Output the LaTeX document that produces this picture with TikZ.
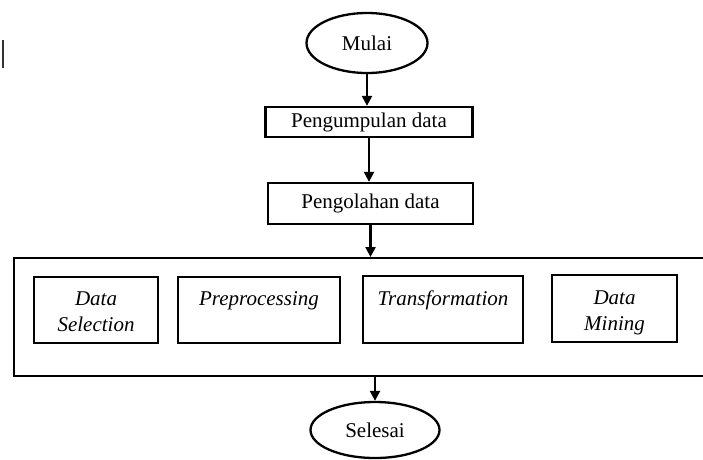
\documentclass[tikz,border=0pt]{standalone}
\usepackage{fontspec}
\setmainfont{Liberation Serif}
\usetikzlibrary{arrows.meta,shapes.geometric}
\tikzset{
  every node/.style={font=\fontsize{21}{26}\selectfont},
  term/.style={draw, ellipse, line width=2.3pt, inner sep=0pt},
  procbox/.style={draw, rectangle, line width=2.3pt, inner sep=0pt},
  flow/.style={line width=2.3pt, -{Triangle[width=10pt,length=10pt]}},
  itxt/.style={font=\fontsize{21}{26}\selectfont\itshape, align=center, anchor=base, inner sep=0pt}
}
\begin{document}
\begin{tikzpicture}[x=1pt,y=-1pt]
\useasboundingbox (0,0) rectangle (703,459);
\fill[white] (0,0) rectangle (703,459);
% stray mark
\draw[line width=1.4pt, black!80] (3,40) -- (3,68);

\node[term, minimum width=121pt, minimum height=60pt] (mulai) at (367,43) {Mulai};
\node[procbox, minimum width=207pt, minimum height=30pt] (box1) at (369,122) {Pengumpulan data};
\node[procbox, minimum width=205pt, minimum height=41pt] (box2) at (370.5,203.5) {Pengolahan data};
\node[procbox, minimum width=710pt, minimum height=118pt, anchor=north west] (outer) at (13,257) {};

\node[procbox, minimum width=124pt, minimum height=66pt] (sel) at (96,310) {};
\node[procbox, minimum width=162pt, minimum height=66pt] (pre) at (259,310) {};
\node[procbox, minimum width=160pt, minimum height=67pt] (tra) at (443,309.5) {};
\node[procbox, minimum width=125pt, minimum height=67pt] (min) at (614.5,308.5) {};

\node[itxt] (selt) at (96,331) {Data\\Selection};
\node[itxt] (pret) at (259,305) {Preprocessing};
\node[itxt] (trat) at (443,305) {Transformation};
\node[itxt] (mint) at (614.5,330) {Data\\Mining};

\node[term, minimum width=129pt, minimum height=56pt] (selesai) at (375,430) {Selesai};

\draw[flow] (mulai.south) -- (mulai.south |- box1.north);
\draw[flow] (box1.south) -- (box1.south |- box2.north);
\draw[flow] (box2.south) -- (box2.south |- outer.north);
\draw[flow] (selesai.north |- outer.south) -- (selesai.north);
\end{tikzpicture}
\end{document}
